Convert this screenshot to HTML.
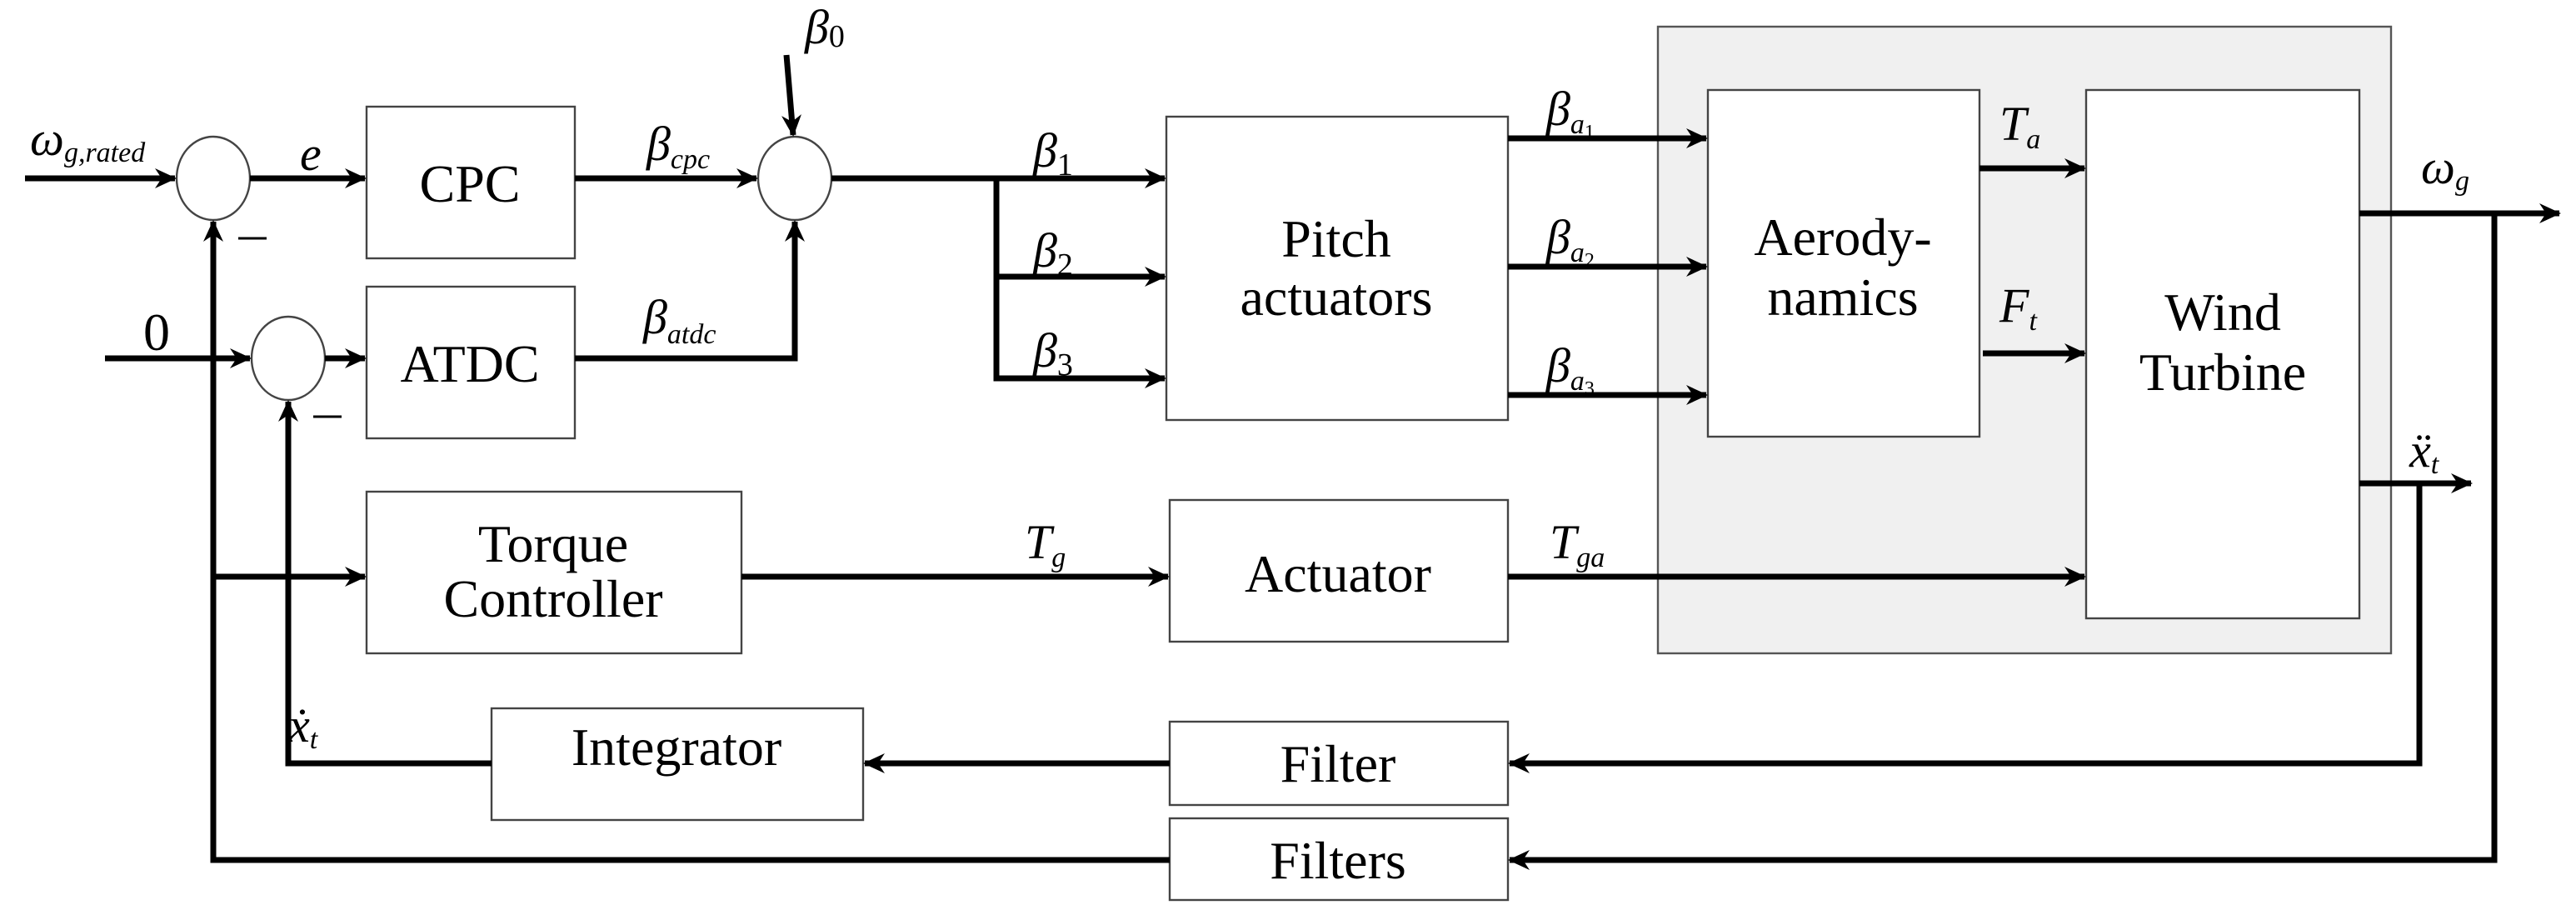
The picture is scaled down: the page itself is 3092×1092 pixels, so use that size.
<!DOCTYPE html>
<html><head><meta charset="utf-8"><style>
html,body{margin:0;padding:0;background:#fff;}
svg{display:block;}
text{font-family:"Liberation Serif",serif;fill:#000;}
.b{font-size:32px;}
.i{font-style:italic;font-size:29px;}
.s{font-style:italic;font-size:17px;}
</style></head><body>
<svg width="3092" height="1092" viewBox="0 0 1546 546" preserveAspectRatio="none" xmlns="http://www.w3.org/2000/svg">
<defs>
<marker id="a" markerWidth="14" markerHeight="14" refX="12" refY="7" orient="auto" markerUnits="userSpaceOnUse">
<path d="M0,1 L13,7 L0,13 L4,7 z" fill="#000"/>
</marker>
</defs>
<rect x="995" y="16" width="440" height="376" fill="#f0f0f0" stroke="#555" stroke-width="1.2"/>
<g fill="#fff" stroke="#444" stroke-width="1.2">
<rect x="220" y="64" width="125" height="91"/>
<rect x="220" y="172" width="125" height="91"/>
<rect x="220" y="295" width="225" height="97"/>
<rect x="700" y="70" width="205" height="182"/>
<rect x="702" y="300" width="203" height="85"/>
<rect x="295" y="425" width="223" height="67"/>
<rect x="702" y="433" width="203" height="50"/>
<rect x="702" y="491" width="203" height="49"/>
<rect x="1025" y="54" width="163" height="208"/>
<rect x="1252" y="54" width="164" height="317"/>
<ellipse cx="128" cy="107" rx="22" ry="25"/>
<ellipse cx="173" cy="215" rx="22" ry="25"/>
<ellipse cx="477" cy="107" rx="22" ry="25"/>
</g>
<g stroke="#000" stroke-width="3.5" fill="none">
<line x1="15" y1="107" x2="105" y2="107" marker-end="url(#a)"/>
<line x1="150" y1="107" x2="219" y2="107" marker-end="url(#a)"/>
<line x1="345" y1="107" x2="454" y2="107" marker-end="url(#a)"/>
<line x1="472" y1="33" x2="476" y2="81" marker-end="url(#a)"/>
<line x1="63" y1="215" x2="150" y2="215" marker-end="url(#a)"/>
<line x1="195" y1="215" x2="219" y2="215" marker-end="url(#a)"/>
<polyline points="345,215 477,215 477,133" marker-end="url(#a)"/>
<polyline points="702,516 128,516 128,133" marker-end="url(#a)"/>
<line x1="128" y1="346" x2="219" y2="346" marker-end="url(#a)"/>
<line x1="445" y1="346" x2="701" y2="346" marker-end="url(#a)"/>
<line x1="905" y1="346" x2="1251" y2="346" marker-end="url(#a)"/>
<polyline points="295,458 173,458 173,241" marker-end="url(#a)"/>
<line x1="702" y1="458" x2="519" y2="458" marker-end="url(#a)"/>
<polyline points="1452,290 1452,458 906,458" marker-end="url(#a)"/>
<polyline points="1497,128 1497,516 906,516" marker-end="url(#a)"/>
<line x1="499" y1="107" x2="598" y2="107"/>
<line x1="598" y1="107" x2="699" y2="107" marker-end="url(#a)"/>
<polyline points="598,107 598,227 699,227" marker-end="url(#a)"/>
<line x1="598" y1="166" x2="699" y2="166" marker-end="url(#a)"/>
<line x1="905" y1="83" x2="1024" y2="83" marker-end="url(#a)"/>
<line x1="905" y1="160" x2="1024" y2="160" marker-end="url(#a)"/>
<line x1="905" y1="237" x2="1024" y2="237" marker-end="url(#a)"/>
<line x1="1188" y1="101" x2="1251" y2="101" marker-end="url(#a)"/>
<line x1="1190" y1="212" x2="1251" y2="212" marker-end="url(#a)"/>
<line x1="1416" y1="128" x2="1536" y2="128" marker-end="url(#a)"/>
<line x1="1416" y1="290" x2="1483" y2="290" marker-end="url(#a)"/>
<line x1="143" y1="143" x2="160" y2="143" stroke-width="1.5"/>
<line x1="188" y1="250" x2="205" y2="250" stroke-width="1.5"/>
</g>
<g class="b" text-anchor="middle">
<text x="282" y="121">CPC</text>
<text x="282" y="229">ATDC</text>
<text x="332" y="337">Torque</text>
<text x="332" y="370">Controller</text>
<text x="802" y="154">Pitch</text>
<text x="802" y="189">actuators</text>
<text x="803" y="355">Actuator</text>
<text x="406" y="459">Integrator</text>
<text x="803" y="469">Filter</text>
<text x="803" y="527">Filters</text>
<text x="1106" y="153">Aerody-</text>
<text x="1106" y="189">namics</text>
<text x="1334" y="198">Wind</text>
<text x="1334" y="234">Turbine</text>
</g>
<text class="i" x="18" y="93">ω<tspan class="s" dy="4">g,rated</tspan></text>
<text class="i" x="180" y="102">e</text>
<text class="b" x="86" y="210">0</text>
<text class="i" x="388" y="96">β<tspan class="s" dy="5">cpc</tspan></text>
<text class="i" x="386" y="200">β<tspan class="s" dy="6">atdc</tspan></text>
<text class="i" x="483" y="26">β<tspan font-size="19" font-style="normal" dy="2">0</tspan></text>
<text class="i" x="620" y="100">β<tspan font-size="19" font-style="normal" dy="5">1</tspan></text>
<text class="i" x="620" y="160">β<tspan font-size="19" font-style="normal" dy="5">2</tspan></text>
<text class="i" x="620" y="220">β<tspan font-size="19" font-style="normal" dy="5">3</tspan></text>
<text class="i" x="928" y="75">β<tspan class="s" dy="5">a</tspan><tspan font-size="12" font-style="normal" dy="3">1</tspan></text>
<text class="i" x="928" y="152">β<tspan class="s" dy="5">a</tspan><tspan font-size="12" font-style="normal" dy="3">2</tspan></text>
<text class="i" x="928" y="229">β<tspan class="s" dy="5">a</tspan><tspan font-size="12" font-style="normal" dy="3">3</tspan></text>
<text class="i" x="1200" y="84">T<tspan class="s" dy="5">a</tspan></text>
<text class="i" x="1200" y="193">F<tspan class="s" dy="5">t</tspan></text>
<text class="i" x="1453" y="110">ω<tspan class="s" font-style="normal" dy="4">g</tspan></text>
<text class="i" x="1446" y="280">ẍ<tspan class="s" dy="4">t</tspan></text>
<text class="i" x="615" y="335">T<tspan class="s" dy="5">g</tspan></text>
<text class="i" x="930" y="335">T<tspan class="s" dy="5">ga</tspan></text>
<text class="i" x="173" y="445">ẋ<tspan class="s" dy="4">t</tspan></text>
</svg>
</body></html>
